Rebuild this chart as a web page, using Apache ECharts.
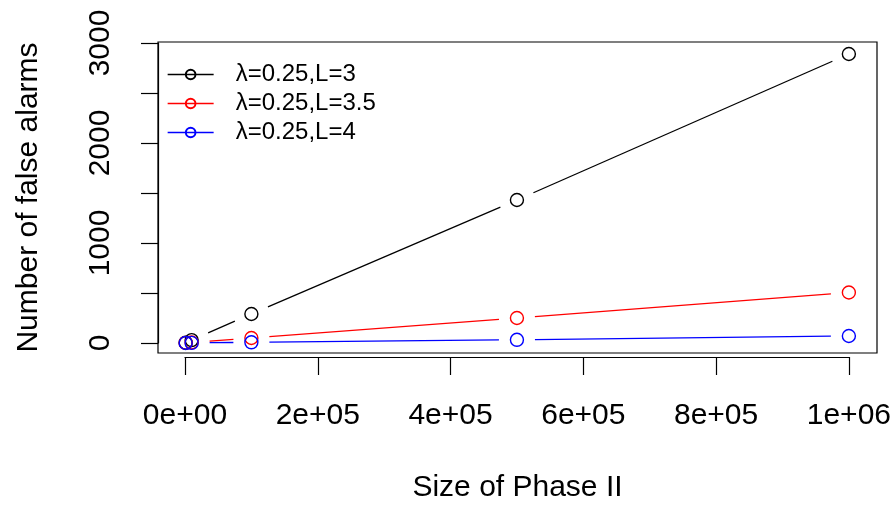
<!DOCTYPE html>
<html><head><meta charset="utf-8">
<script src="https://cdn.jsdelivr.net/npm/echarts@6/dist/echarts.min.js"></script>
<style>html,body{margin:0;padding:0;background:#fff}#c{width:894px;height:508px}</style>
</head><body><div id="c"></div>
<script>
const xValues = [1000, 10000, 100000, 500000, 1000000];
const seriesNames = ['λ=0.25,L=3', 'λ=0.25,L=3.5', 'λ=0.25,L=4'];
const blackValues = [3, 29, 290, 1430, 2890];
const redValues = [1, 5, 50, 250, 505];
const blueValues = [0, 1, 7, 32, 70];
const xTickLabels = ['0e+00', '2e+05', '4e+05', '6e+05', '8e+05', '1e+06'];
const yTickLabels = ['0', '', '1000', '', '2000', '', '3000'];
const colors = ['#000000', '#ff0000', '#0000ff'];
const allValues = [blackValues, redValues, blueValues];

const FONT = '"Liberation Sans", Arial, sans-serif';
const GAP = 18;

const chart = echarts.init(document.getElementById('c'), null, {renderer: 'canvas'});

const series = [];
allValues.forEach((vals, si) => {
  const pts = xValues.map((x, i) => [x, vals[i]]);
  series.push({
    type: 'custom',
    xAxisIndex: 0, yAxisIndex: 0,
    silent: true,
    data: pts,
    encode: {x: 0, y: 1},
    renderItem: function (params, api) {
      const i = params.dataIndex;
      if (i === 0) return null;
      const p0 = api.coord(pts[i - 1]);
      const p1 = api.coord(pts[i]);
      const dx = p1[0] - p0[0], dy = p1[1] - p0[1];
      const len = Math.sqrt(dx * dx + dy * dy);
      if (len <= 2 * GAP) return null;
      const ux = dx / len, uy = dy / len;
      return {
        type: 'line',
        shape: {x1: p0[0] + ux * GAP, y1: p0[1] + uy * GAP, x2: p1[0] - ux * GAP, y2: p1[1] - uy * GAP},
        style: {stroke: colors[si], lineWidth: 1.3}
      };
    },
    z: 2
  });
  series.push({
    type: 'line',
    name: seriesNames[si],
    xAxisIndex: 0, yAxisIndex: 0,
    data: pts,
    symbol: 'circle',
    symbolSize: 13,
    showAllSymbol: true,
    lineStyle: {width: 0, color: colors[si]},
    itemStyle: {color: 'rgba(255,255,255,0)', borderColor: colors[si], borderWidth: 1.4},
    emphasis: {disabled: true},
    animation: false,
    z: 3
  });
});

const option = {
  animation: false,
  backgroundColor: '#ffffff',
  grid: [
    {left: 185, right: 44, top: 43, bottom: 165, show: false},
    {left: 158, right: 17, top: 42, bottom: 151, show: true, borderColor: '#000', borderWidth: 1.2, backgroundColor: 'transparent'}
  ],
  xAxis: [
    {
      gridIndex: 0, type: 'value', min: 0, max: 1000000, interval: 200000,
      offset: 14,
      axisLine: {show: true, onZero: false, lineStyle: {color: '#000', width: 1.2}},
      axisTick: {show: true, length: 18, lineStyle: {color: '#000', width: 1.2}},
      axisLabel: {
        margin: 44, color: '#000', fontFamily: FONT, fontSize: 30,
        formatter: v => xTickLabels[Math.round(v / 200000)]
      },
      splitLine: {show: false}
    },
    {
      gridIndex: 1, type: 'value', min: 0, max: 1,
      axisLine: {show: false}, axisTick: {show: false}, axisLabel: {show: false}, splitLine: {show: false},
      name: 'Size of Phase II', nameLocation: 'middle', nameGap: 120,
      nameTextStyle: {color: '#000', fontFamily: FONT, fontSize: 30}
    }
  ],
  yAxis: [
    {
      gridIndex: 0, type: 'value', min: 0, max: 3000, interval: 500,
      offset: 27,
      axisLine: {show: true, onZero: false, lineStyle: {color: '#000', width: 1.2}},
      axisTick: {show: true, length: 17, lineStyle: {color: '#000', width: 1.2}},
      axisLabel: {
        margin: 42, rotate: 90, color: '#000', fontFamily: FONT, fontSize: 30,
        formatter: v => yTickLabels[Math.round(v / 500)]
      },
      splitLine: {show: false}
    },
    {
      gridIndex: 1, type: 'value', min: 0, max: 1,
      axisLine: {show: false}, axisTick: {show: false}, axisLabel: {show: false}, splitLine: {show: false},
      name: 'Number of false alarms', nameLocation: 'middle', nameGap: 114,
      nameTextStyle: {color: '#000', fontFamily: FONT, fontSize: 30}
    }
  ],
  legend: {
    orient: 'vertical',
    left: 167, top: 60,
    padding: 0,
    itemWidth: 46, itemHeight: 12, itemGap: 0,
    data: seriesNames,
    lineStyle: {width: 1.3},
    selectedMode: false,
    textStyle: {color: '#000', fontFamily: FONT, fontSize: 24, lineHeight: 29, padding: [0, 0, 0, 17]}
  },
  series: series
};
chart.setOption(option);
</script></body></html>
